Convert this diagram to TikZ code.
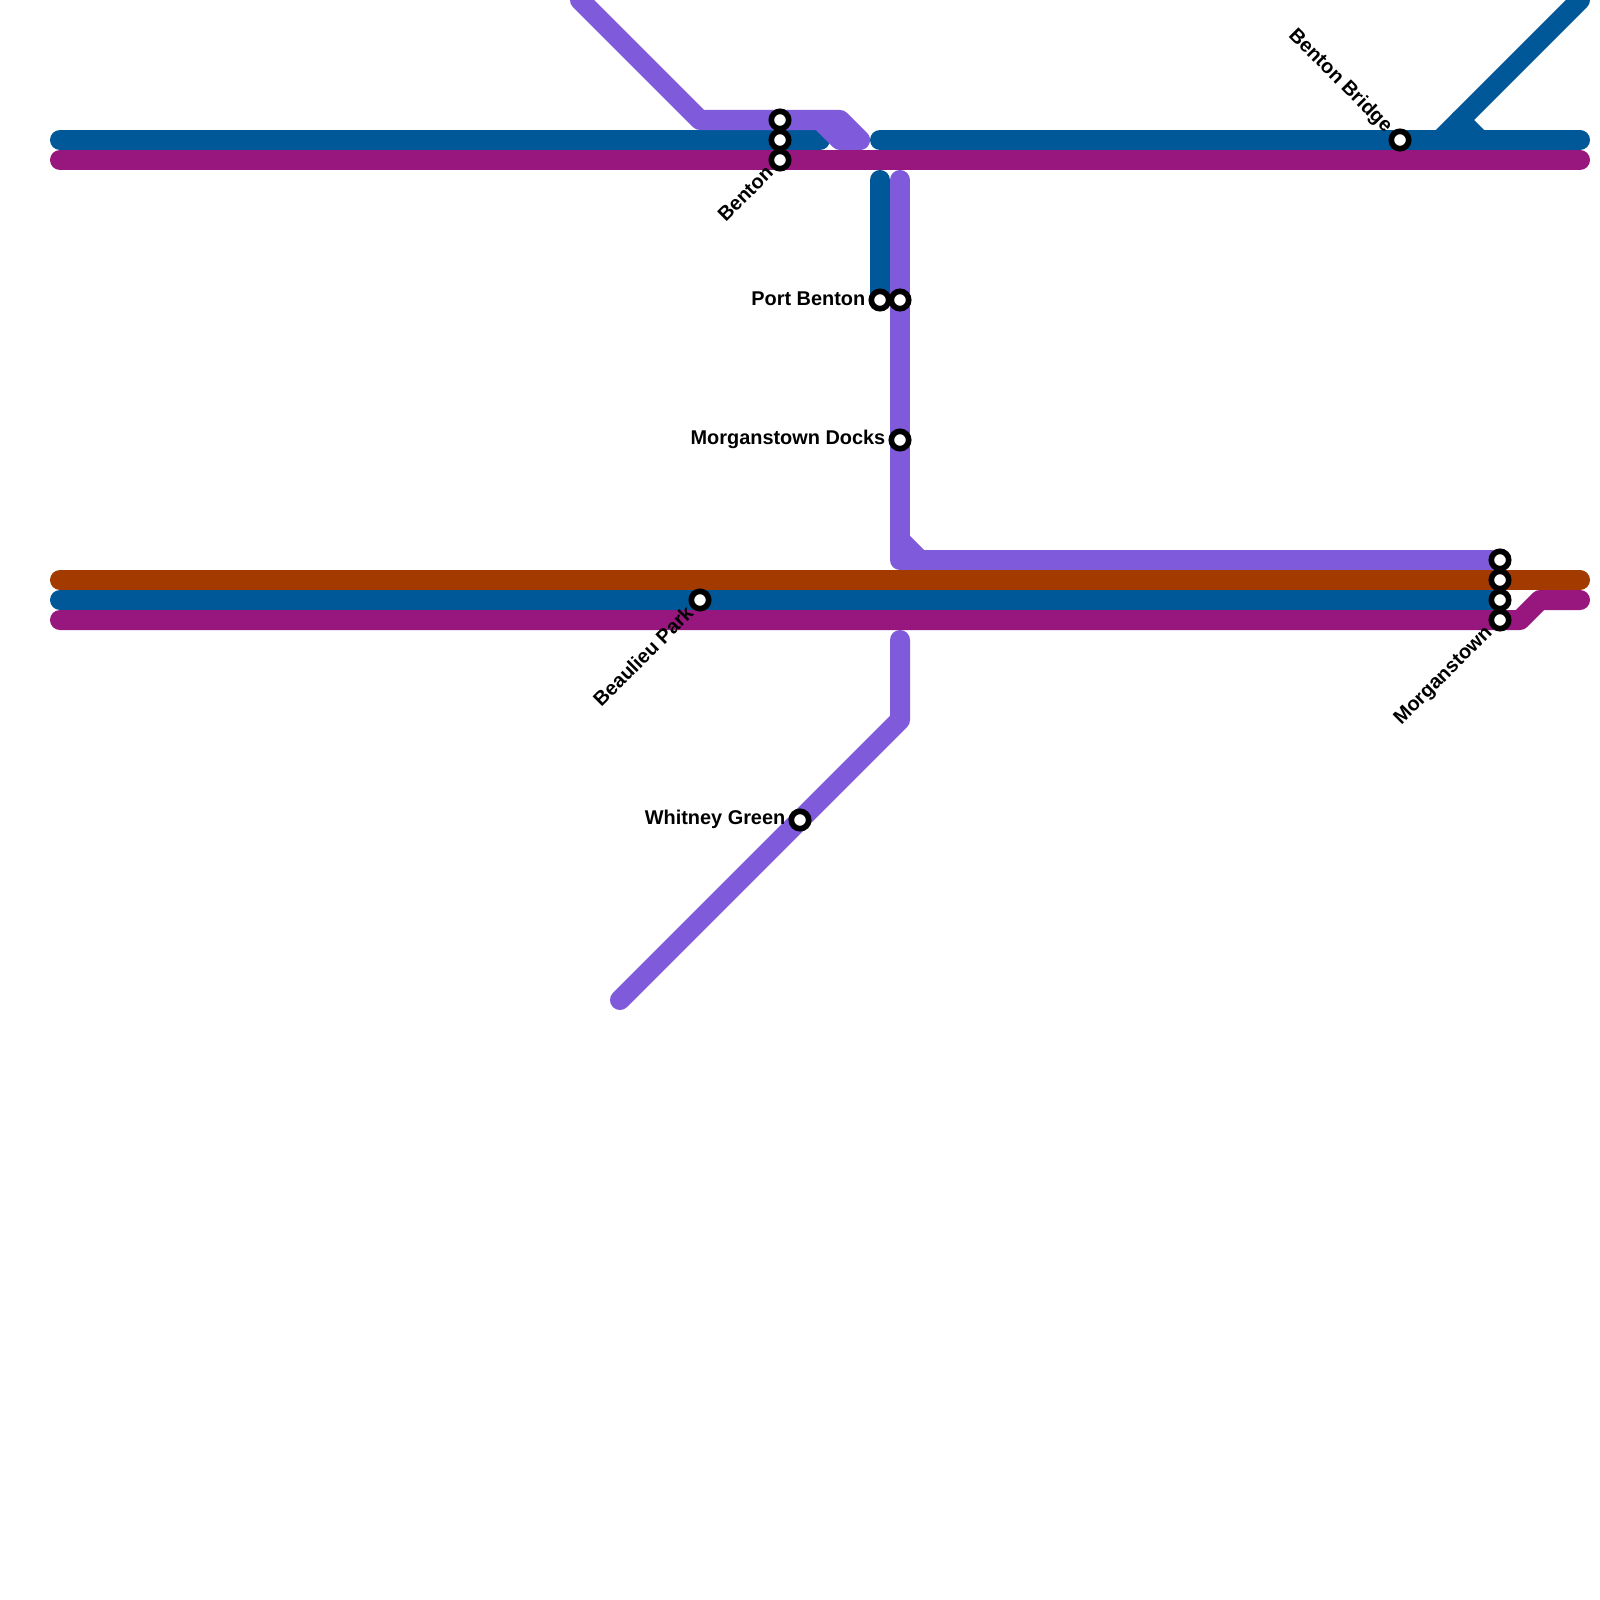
\documentclass[tikz,border=0pt]{standalone}
\usepackage{fontspec}
\setmainfont{Liberation Sans}
\usetikzlibrary{calc}
\definecolor{lineblue}{HTML}{005899}
\definecolor{linemagenta}{HTML}{97177F}
\definecolor{linebrown}{HTML}{A33A00}
\definecolor{linepurple}{HTML}{7F5ADB}
\tikzset{
  metro/.style={line width=5.69pt, line cap=round, line join=round},
  station/.style={circle, draw=black, fill=white, line width=1.6pt, minimum size=4.95pt, inner sep=0pt},
  stlabel/.style={font=\fontsize{5.66pt}{6.5pt}\selectfont\bfseries, inner sep=0pt, text=black}
}
\begin{document}
\begin{tikzpicture}[x=0.01cm, y=-0.01cm]
\useasboundingbox (0,0) rectangle (1600,1600);

% Points
\coordinate (ben1) at (780,120);
\coordinate (ben2) at (780,140);
\coordinate (ben3) at (780,160);
\coordinate (bridge) at (1400,140);
\coordinate (portb) at (880,300);
\coordinate (portp) at (900,300);
\coordinate (docks) at (900,440);
\coordinate (beau) at (700,600);
\coordinate (whit) at (800,820);
\coordinate (mor1) at (1500,560);
\coordinate (mor2) at (1500,580);
\coordinate (mor3) at (1500,600);
\coordinate (mor4) at (1500,620);

% Brown line
\draw[metro, linebrown] (60,580) coordinate (brw) -- (mor2) -- (1580,580) coordinate (bre);

% Blue lines
\draw[metro, lineblue] (60,140) coordinate (blw) -- (ben2) -- (820,140) coordinate (ble);
\draw[metro, lineblue] (880,140) coordinate (brs) -- (bridge) -- (1580,140) coordinate (brn);
\draw[metro, lineblue] (1580,0) coordinate (bne) -- (1440,140) coordinate (bnb);
\draw[metro, lineblue] (1460,120) coordinate (bnk) -- (1480,140) coordinate (bnj);
\draw[metro, lineblue] (880,180) coordinate (bpt) -- (portb);
\draw[metro, lineblue] (60,600) coordinate (blo) -- (beau) -- (mor3);

% Purple lines
\draw[metro, linepurple] (580,0) coordinate (pnw) -- (700,120) coordinate (pk1) -- (ben1) -- (840,120) coordinate (pk2)
  -- (860,140) coordinate (pk3) -- (840,140) coordinate (pk4) -- (820,120) coordinate (pk5);
\draw[metro, linepurple] (900,180) coordinate (ptop) -- (portp) -- (docks) -- (900,560) coordinate (pcor) -- (mor1);
\draw[metro, linepurple] (900,540) coordinate (pnk) -- (920,560) coordinate (pnj);
\draw[metro, linepurple] (900,640) coordinate (plo) -- (900,720) coordinate (plk) -- (whit) -- (620,1000) coordinate (pend);

% Magenta lines
\draw[metro, linemagenta] (60,160) coordinate (mgw) -- (ben3) -- (1580,160) coordinate (mge);
\draw[metro, linemagenta] (60,620) coordinate (mlw) -- (mor4) -- (1520,620) coordinate (mk1)
  -- (1540,600) coordinate (mk2) -- (1580,600) coordinate (mle);

% Stations
\foreach \p in {ben1, ben2, ben3, bridge, portb, portp, docks, beau, whit, mor1, mor2, mor3, mor4} {
  \node[station] (st\p) at (\p) {};
}

% Labels
\node[stlabel, rotate=45, anchor=east] (labbenton) at ($(ben3)+(-10,9)$) {Benton};
\node[stlabel, rotate=-45, anchor=east] (labbridge) at ($(bridge)+(-11,-10)$) {Benton Bridge};
\node[stlabel, anchor=east] (labport) at ($(portb)+(-14,-1)$) {Port Benton};
\node[stlabel, anchor=east] (labdocks) at ($(docks)+(-14,-1)$) {Morganstown Docks};
\node[stlabel, rotate=45, anchor=east] (labbeau) at ($(beau)+(-10,9)$) {Beaulieu Park};
\node[stlabel, anchor=east] (labwhit) at ($(whit)+(-14,-1)$) {Whitney Green};
\node[stlabel, rotate=45, anchor=east] (labmor) at ($(mor4)+(-10,10)$) {Morganstown};

\end{tikzpicture}
\end{document}
